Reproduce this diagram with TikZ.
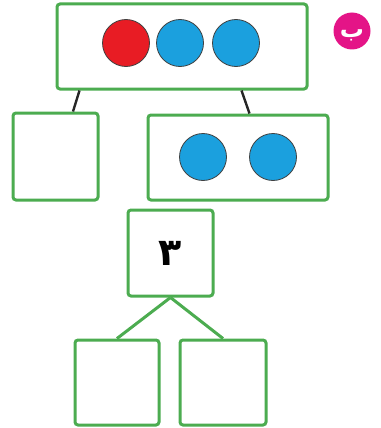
\documentclass[tikz,border=0pt]{standalone}
\usepackage{fontspec}
\usetikzlibrary{calc}
\newfontfamily\arabicfont[Script=Arabic]{DejaVu Sans}
\TeXXeTstate=1
\definecolor{bgrn} {RGB}{ 76,172, 80}
\definecolor{cred} {RGB}{232, 28, 36}
\definecolor{cblue}{RGB}{ 27,160,222}
\definecolor{pink} {RGB}{228, 20,135}
\tikzset{
  % Green box
  GB/.style={rectangle,rounded corners=3pt,draw=bgrn,fill=white,
             minimum width=#1,line width=3pt,inner sep=0pt},
  GB/.default=85pt,
  % Counter disc
  DK/.style={circle,draw=black!75,fill=#1,minimum size=47pt,
             inner sep=0pt,line width=0.8pt},
  % Links
  BLine/.style={line width=2.4pt,color=black!85},
  GLine/.style={line width=3pt,color=bgrn},
}
\begin{document}
\begin{tikzpicture}[x=1pt,y=-1pt]
      \useasboundingbox (0,0) rectangle (380,428);
      \node[GB=250pt,minimum height=85pt] at (182,46.5) (top) {};
      \node[DK=cred]  at (126,43) (t1) {};
      \node[DK=cblue] at (180,43) (t2) {};
      \node[DK=cblue] at (236,43) (t3) {};
      \node[circle,fill=pink,minimum size=37pt,inner sep=0pt] at (352,31) (tag) {};
      \node[text=white,inner sep=0pt,
            font=\arabicfont\bfseries\fontsize{24}{24}\selectfont]
            at ($(tag.center)+(0,4)$) (tagtxt) {\beginR ب\endR};
      \node[GB=85pt,minimum height=87pt] at (55.5,156.5) (lbox) {};
      \node[GB=180pt,minimum height=85pt] at (238,157.5) (rbox) {};
      \node[DK=cblue] at (203,157) (r1) {};
      \node[DK=cblue] at (273,157) (r2) {};
      \draw[BLine] ($(top.south west)+(24,0)$) -- ($(lbox.north)+(17.5,0)$);
      \draw[BLine] ($(top.south west)+(186,0)$) -- ($(rbox.north west)+(103,0)$);
      \node[GB=85pt,minimum height=86pt,
            font=\arabicfont\bfseries\fontsize{38}{38}\selectfont]
            at (170.5,253) (mid) {۳};
      \node[GB=84pt,minimum height=85pt] at (117,382.5) (bl) {};
      \node[GB=86pt,minimum height=85pt] at (223,382.5) (br) {};
      \draw[GLine] (mid.south) -- (bl.north);
      \draw[GLine] (mid.south) -- (br.north);
    \end{tikzpicture}
\end{document}
